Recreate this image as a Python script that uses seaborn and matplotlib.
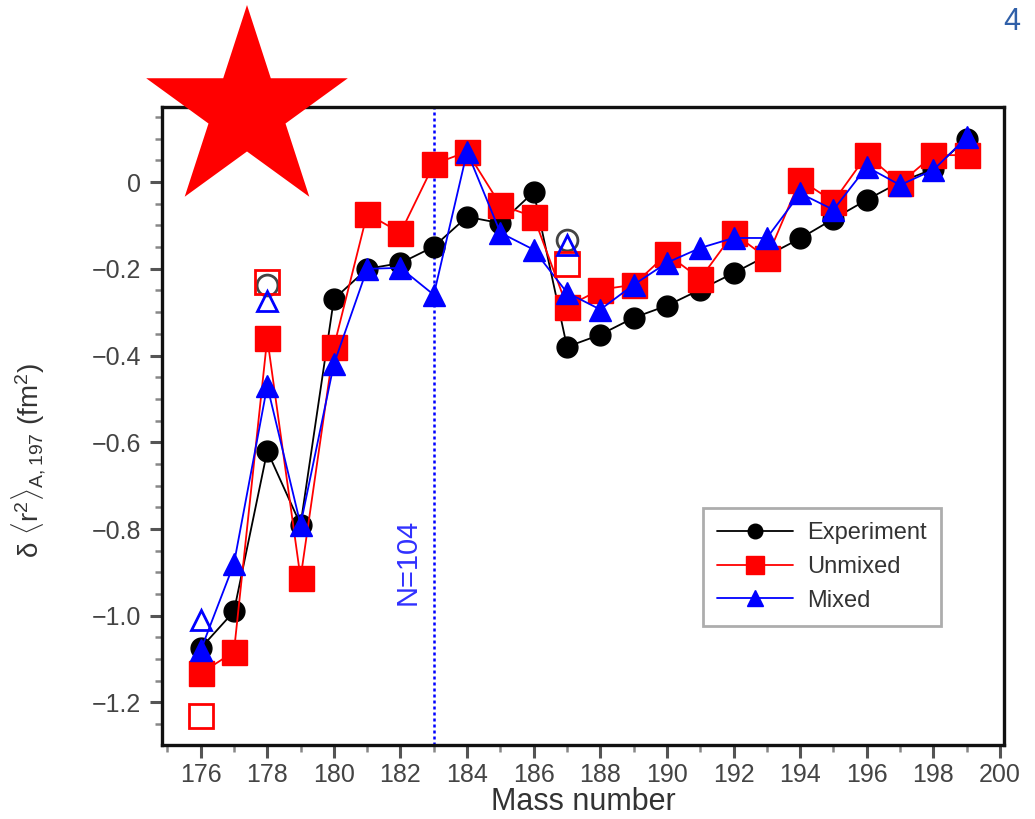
import numpy as np
import pandas as pd
import matplotlib
matplotlib.use("Agg")
import matplotlib.pyplot as plt
from matplotlib.patches import Polygon
from matplotlib.ticker import MultipleLocator, FuncFormatter
import seaborn as sns

# Mass numbers of the isotope chain
mass = list(range(176, 200))

# Changes in mean-square charge radius relative to A=197 (fm^2)
experiment = [-1.075, -0.99, -0.62, -0.79, -0.27, -0.20, -0.187, -0.149,
              -0.08, -0.095, -0.023, -0.38, -0.352, -0.313, -0.285, -0.248,
              -0.21, -0.17, -0.13, -0.085, -0.041, 0.0, 0.03, 0.10]
unmixed = [-1.133, -1.083, -0.36, -0.913, -0.38, -0.073, -0.117, 0.041,
           0.07, -0.053, -0.08, -0.287, -0.248, -0.237, -0.166, -0.223,
           -0.118, -0.175, 0.005, -0.045, 0.062, -0.003, 0.062, 0.062]
mixed = [-1.08, -0.88, -0.47, -0.79, -0.42, -0.20, -0.198, -0.26,
         0.07, -0.117, -0.156, -0.255, -0.294, -0.237, -0.186, -0.152,
         -0.129, -0.129, -0.026, -0.064, 0.035, -0.007, 0.028, 0.103]

# Isomeric states (open symbols)
iso_exp_mass = [178, 187]
iso_exp = [-0.237, -0.134]
iso_unmixed_mass = [176, 178, 187]
iso_unmixed = [-1.23, -0.23, -0.19]
iso_mixed_mass = [176, 178, 187]
iso_mixed = [-1.01, -0.275, -0.146]

series_names = ["Experiment", "Unmixed", "Mixed"]
shell_closure_mass = 183
shell_label = "N=104"
x_label = "Mass number"
y_label = r"$\mathrm{\delta\ \langle r^2\rangle_{A,197}}$ (fm$^2$)"
panel_number = "4"

sns.set_theme(style="ticks")
plt.rcParams["font.family"] = ["Liberation Sans", "DejaVu Sans"]
plt.rcParams["mathtext.fontset"] = "custom"
plt.rcParams["mathtext.rm"] = "Liberation Sans"
plt.rcParams["mathtext.it"] = "Liberation Sans"
plt.rcParams["axes.unicode_minus"] = True

fig = plt.figure(figsize=(10.35, 8.19), dpi=100)
ax = fig.add_axes([162 / 1035, 1 - 745 / 819, (1004 - 162) / 1035, (745 - 107) / 819])

df = pd.DataFrame({"A": mass, "exp": experiment, "unm": unmixed, "mix": mixed})

styles = [
    ("exp", "black", "o", 15, series_names[0]),
    ("unm", "#ff0000", "s", 18, series_names[1]),
    ("mix", "#0000ff", "^", 16, series_names[2]),
]
for col, colr, mk, ms, name in styles:
    sns.lineplot(data=df, x="A", y=col, ax=ax, color=colr, marker=mk,
                 markersize=ms, markeredgecolor=colr, markeredgewidth=1,
                 linewidth=1.3, label=name, errorbar=None)

# open symbols for the isomers
iso_sets = [
    (iso_exp_mass, iso_exp, "#444444", "o", 15),
    (iso_unmixed_mass, iso_unmixed, "#ff0000", "s", 17),
    (iso_mixed_mass, iso_mixed, "#0000ff", "^", 15),
]
for xs, ys, colr, mk, ms in iso_sets:
    sns.lineplot(x=xs, y=ys, ax=ax, color=colr, marker=mk, markersize=ms,
                 markerfacecolor="none", markeredgecolor=colr,
                 markeredgewidth=2, linestyle="", legend=False, errorbar=None)

# N=104 marker line
ax.axvline(shell_closure_mass, color="#0000ff", linestyle=(0, (1.2, 1.2)),
           linewidth=1.8, zorder=1)
ax.text(182.2, -0.875, shell_label, rotation=90, color="#3030ff",
        fontsize=21, ha="center", va="center")

ax.set_xlim(174.84, 200.12)
ax.set_ylim(-1.298, 0.173)
ax.xaxis.set_major_locator(MultipleLocator(2))
ax.xaxis.set_minor_locator(MultipleLocator(1))
ax.yaxis.set_major_locator(MultipleLocator(0.2))
ax.yaxis.set_minor_locator(MultipleLocator(0.05))
ax.yaxis.set_major_formatter(FuncFormatter(
    lambda v, p: "0" if abs(v) < 1e-9 else f"\u2212{abs(v):.1f}"))

ax.tick_params(which="major", direction="out", length=9, width=2.2,
               color="#555555", labelcolor="#444444")
ax.tick_params(which="minor", direction="out", length=5, width=1.8,
               color="#888888")
ax.tick_params(axis="x", which="major", labelsize=18, pad=4)
ax.tick_params(axis="y", which="major", labelsize=18, pad=6)

for side in ["left", "bottom", "top", "right"]:
    ax.spines[side].set_visible(True)
    ax.spines[side].set_linewidth(2.4)
    ax.spines[side].set_color("#111111")

ax.set_xlabel(x_label, fontsize=22, color="#333333")
ax.xaxis.set_label_coords(0.5, -0.0655)
ax.set_ylabel(y_label, fontsize=20, color="#333333")
ax.yaxis.set_label_coords(-0.135, 0.445)

leg = ax.legend(loc="upper left", bbox_to_anchor=(0.6425, 0.3715),
                borderaxespad=0, frameon=True, fancybox=False,
                fontsize=17, markerscale=0.7, handlelength=3.2,
                labelspacing=0.5, borderpad=0.6, handletextpad=0.6)
leg.get_frame().set_edgecolor("#999999")
leg.get_frame().set_linewidth(2)
for t in leg.get_texts():
    t.set_color("#333333")

# red star emblem in the upper-left corner
cx, cy, r_out = 247, 111, 106
r_in = r_out * 0.382
ang = np.pi / 2 + np.arange(10) * np.pi / 5
rad = np.where(np.arange(10) % 2 == 0, r_out, r_in)
verts = np.column_stack([(cx + rad * np.cos(ang)) / 1035,
                         1 - (cy - rad * np.sin(ang)) / 819])
star = Polygon(verts, closed=True, transform=fig.transFigure,
               facecolor="#ff0000", edgecolor="none", zorder=10)
fig.add_artist(star)

fig.text(1003 / 1035, 1 - 22 / 819, panel_number, fontsize=22,
         color="#2f5fa8", ha="left", va="center")

fig.savefig("out.png", dpi=100, facecolor="white")
